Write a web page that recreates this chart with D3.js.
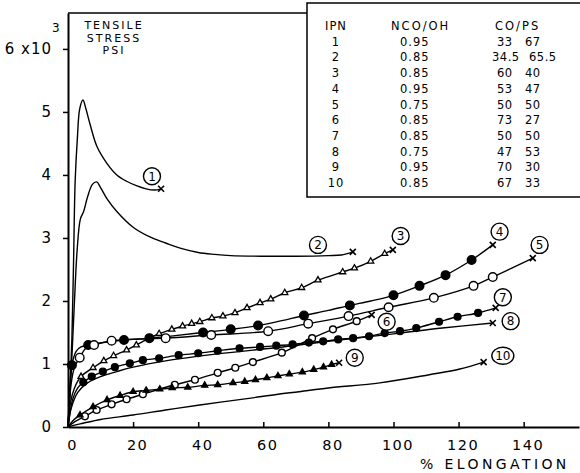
<!DOCTYPE html>
<html>
<head>
<meta charset="utf-8">
<script src="https://cdn.jsdelivr.net/npm/d3@7"></script>
<style>
  body { margin: 0; background: #fff; }
  svg { display: block; font-family: 'DejaVu Sans', sans-serif; }
</style>
</head>
<body>
<div class="canvas"></div>
<script>
const xTicks = [0, 20, 40, 60, 80, 100, 120, 140];
const yTicks = [0, 1, 2, 3, 4, 5, 6];

// [% elongation, tensile stress (10^3 psi), marker drawn?]
const ipn1 = [[0, 0], [0.6, 0.6], [1.2, 1.4], [1.7, 2.6], [2.2, 3.9], [2.9, 4.6], [3.6, 5.05], [4.6, 5.19],
  [5.5, 5.05], [6.8, 4.8], [8.9, 4.45], [12, 4.18], [15, 4.0], [18, 3.9], [21, 3.83], [24, 3.78], [26.5, 3.76], [28.6, 3.78]];
const ipn2 = [[0, 0], [1.0, 0.9], [1.9, 1.9], [2.8, 2.8], [3.8, 3.3], [4.8, 3.42], [6.0, 3.65], [7.5, 3.85], [8.8, 3.89],
  [10, 3.8], [12, 3.62], [15, 3.42], [20, 3.17], [25, 3.02], [30, 2.92], [35, 2.83], [40, 2.77], [45, 2.74], [50, 2.72],
  [60, 2.71], [70, 2.71], [80, 2.72], [84, 2.73], [87.5, 2.78]];
const ipn3 = [[0, 0, 0], [0.8, 0.4, 0], [2, 0.62, 0], [4, 0.8, 1], [7.7, 0.94, 1], [11, 1.05, 1], [14, 1.13, 1], [18, 1.22, 1],
  [21, 1.3, 1], [25, 1.41, 1], [28, 1.48, 1], [31.9, 1.55, 1], [35.2, 1.6, 1], [38, 1.64, 1], [40.5, 1.67, 1], [44.2, 1.73, 1],
  [47.6, 1.76, 1], [51.3, 1.81, 1], [55, 1.89, 1], [59, 1.97, 1], [62.3, 2.03, 1], [66.6, 2.13, 1], [71.8, 2.21, 1],
  [76.8, 2.33, 1], [84.4, 2.46, 1], [88, 2.52, 1], [93, 2.63, 1], [97.3, 2.75, 1], [99.8, 2.81, 0]];
const ipn4 = [[0, 0, 0], [0.5, 0.55, 0], [1.2, 0.98, 1], [2.5, 1.2, 0], [4, 1.27, 0], [6.2, 1.3, 1], [12, 1.35, 0],
  [17.2, 1.38, 1], [25, 1.41, 1], [33, 1.45, 0], [41.5, 1.5, 1], [50, 1.55, 1], [58.4, 1.61, 1], [65, 1.68, 0],
  [72.5, 1.77, 1], [80, 1.85, 0], [86.6, 1.93, 1], [93, 2.0, 0], [100, 2.09, 1], [108, 2.24, 1], [116, 2.41, 1],
  [124, 2.65, 1], [130.5, 2.89, 0]];
const ipn5 = [[0, 0, 0], [1, 0.7, 0], [2, 0.95, 0], [3.6, 1.1, 1], [5.5, 1.25, 0], [8, 1.3, 1], [13.4, 1.37, 1],
  [20, 1.39, 0], [30, 1.41, 1], [44, 1.46, 1], [61.5, 1.52, 1], [73.8, 1.64, 1], [86.2, 1.76, 1], [98.5, 1.9, 1],
  [112.4, 2.05, 1], [124.6, 2.24, 1], [130.5, 2.38, 1], [142.8, 2.68, 0]];
const ipn6 = [[0, 0, 0], [2, 0.08, 0], [5.2, 0.17, 1], [8.8, 0.27, 1], [13.4, 0.36, 1], [18, 0.44, 1], [23, 0.52, 1],
  [32.8, 0.67, 1], [39, 0.75, 1], [46, 0.86, 1], [51.4, 0.94, 1], [56.8, 1.03, 1], [65.7, 1.18, 1], [75, 1.41, 1],
  [81.4, 1.55, 1], [88.7, 1.68, 1], [93.3, 1.78, 0]];
const ipn7 = [[0, 0, 0], [1.5, 0.45, 0], [3, 0.62, 0], [4.7, 0.71, 1], [7.3, 0.8, 1], [10.7, 0.88, 1], [14.4, 0.95, 1],
  [19, 1.01, 1], [23, 1.06, 1], [28, 1.09, 1], [34, 1.14, 1], [40, 1.17, 1], [46, 1.21, 1], [52.7, 1.25, 1], [59, 1.27, 1],
  [64, 1.29, 1], [69, 1.31, 1], [74, 1.34, 1], [78.4, 1.36, 1], [83, 1.39, 1], [87.6, 1.41, 1], [92.5, 1.44, 1],
  [97.3, 1.49, 1], [102, 1.52, 1], [107, 1.57, 1], [114, 1.67, 1], [119.7, 1.75, 1], [126, 1.81, 1], [131.4, 1.89, 0]];
const ipn8 = [[0, 0], [1, 0.3], [3, 0.55], [6, 0.7], [10, 0.8], [15, 0.88], [20, 0.95], [30, 1.05], [46, 1.16],
  [66, 1.27], [80, 1.36], [92, 1.43], [102, 1.49], [115, 1.57], [130.5, 1.65]];
const ipn9 = [[0, 0, 0], [1.5, 0.1, 0], [3.7, 0.19, 1], [7.7, 0.32, 1], [12, 0.43, 1], [16, 0.5, 1], [20, 0.56, 1],
  [24, 0.58, 1], [28.2, 0.6, 1], [32, 0.62, 1], [36.8, 0.63, 1], [42, 0.66, 1], [46, 0.67, 1], [50.7, 0.7, 1],
  [54.3, 0.72, 1], [57.6, 0.75, 1], [61.1, 0.78, 1], [64.5, 0.81, 1], [68, 0.84, 1], [72, 0.87, 1], [75.5, 0.91, 1],
  [78.5, 0.95, 1], [81, 0.99, 1], [83.3, 1.02, 0]];
const ipn10 = [[0, 0], [2, 0.03], [4.6, 0.06], [10, 0.12], [20, 0.19], [30, 0.27], [40.5, 0.35], [55, 0.45],
  [64.5, 0.52], [71, 0.56], [80, 0.62], [95.8, 0.7], [111, 0.83], [120.4, 0.92], [127.7, 1.03]];

const curves = [ipn1, ipn2, ipn3, ipn4, ipn5, ipn6, ipn7, ipn8, ipn9, ipn10];
const markerKinds = [null, null, 'triOpen', 'dotL', 'openL', 'openS', 'dotS', null, 'triFill', null];
// where the circled numbers sit, in data units
const labelPos = [[25.8, 3.98], [76.8, 2.89], [102.2, 3.03], [132.6, 3.1], [144.9, 2.89],
  [97.9, 1.67], [133.6, 2.06], [136, 1.68], [88.1, 1.1], [133.6, 1.13]];

const tableIpn = ['1', '2', '3', '4', '5', '6', '7', '8', '9', '10'];
const tableNcoOh = ['0.95', '0.85', '0.85', '0.95', '0.75', '0.85', '0.85', '0.75', '0.95', '0.85'];
const tableCo = ['33', '34.5', '60', '53', '50', '73', '50', '47', '70', '67'];
const tablePs = ['67', '65.5', '40', '47', '50', '27', '50', '53', '30', '33'];

const width = 580;
const height = 473;

const svg = d3.select('.canvas').append('svg')
  .attr('width', width)
  .attr('height', height);

const x = d3.scaleLinear().domain([0, 157]).range([68, 579]);
const y = d3.scaleLinear().domain([0, 6.57]).range([427, 13]);

// frame + legend box
svg.append('line').attr('x1', 68).attr('x2', 307).attr('y1', 13).attr('y2', 13)
  .attr('stroke', '#000').attr('stroke-width', 1.5);
svg.append('path')
  .attr('d', 'M580,3 L307,3 L307,197 L580,197')
  .attr('fill', 'none').attr('stroke', '#000').attr('stroke-width', 1.5);

// axes
const xAxis = svg.append('g')
  .attr('transform', `translate(0, ${y(0)})`)
  .call(d3.axisBottom(x).tickValues(xTicks).tickSizeInner(-5).tickSizeOuter(0).tickPadding(13));
xAxis.select('.domain').attr('stroke-width', 2.2);
xAxis.selectAll('.tick line').attr('stroke-width', 1.5);
xAxis.selectAll('.tick line').filter(d => d === 0).remove();
xAxis.selectAll('text').attr('font-size', 14.5).attr('font-family', 'DejaVu Sans').attr('letter-spacing', 1.5)
  .attr('dx', 4);

const yAxis = svg.append('g')
  .attr('transform', `translate(${x(0)}, 0)`)
  .call(d3.axisLeft(y).tickValues(yTicks).tickSize(5).tickSizeOuter(0).tickPadding(11)
    .tickFormat(d => d === 6 ? '6 x10' : d));
yAxis.select('.domain').attr('stroke-width', 2);
yAxis.selectAll('.tick line').attr('stroke-width', 1.5);
yAxis.selectAll('text').attr('font-size', 15).attr('font-family', 'DejaVu Sans').attr('letter-spacing', 1);
svg.append('text').attr('x', 52).attr('y', 32).attr('font-size', 12).text('3');

// axis titles
svg.append('g').selectAll('text')
  .data(['TENSILE', 'STRESS', 'PSI'])
  .join('text')
  .attr('x', 114)
  .attr('y', (d, i) => 29 + i * 12.6)
  .attr('text-anchor', 'middle')
  .attr('font-size', 11)
  .attr('letter-spacing', 2)
  .text(d => d);

svg.append('text')
  .attr('x', 420).attr('y', 469)
  .attr('font-size', 14)
  .attr('letter-spacing', 3.4)
  .text('% ELONGATION');

// legend table
const table = svg.append('g').attr('font-size', 11.5).attr('letter-spacing', 1);
table.append('text').attr('x', 336).attr('y', 30).attr('text-anchor', 'middle').text('IPN');
table.append('text').attr('x', 391).attr('y', 30).attr('letter-spacing', 2).text('NCO/OH');
table.append('text').attr('x', 495).attr('y', 30).attr('letter-spacing', 2).text('CO/PS');
const rowY = i => 45.7 + i * 15.7;
table.selectAll('.c1').data(tableIpn).join('text').attr('class', 'c1')
  .attr('x', 336).attr('y', (d, i) => rowY(i)).attr('text-anchor', 'middle').text(d => d);
table.selectAll('.c2').data(tableNcoOh).join('text').attr('class', 'c2')
  .attr('x', 400).attr('y', (d, i) => rowY(i)).text(d => d);
table.selectAll('.c3').data(tableCo).join('text').attr('class', 'c3')
  .attr('x', d => d.length > 2 ? 492 : 497).attr('y', (d, i) => rowY(i)).attr('letter-spacing', 0.5).text(d => d);
table.selectAll('.c4').data(tablePs).join('text').attr('class', 'c4')
  .attr('x', d => d.length > 2 ? 529 : 525).attr('y', (d, i) => rowY(i)).attr('letter-spacing', 0.5).text(d => d);

// curves
const line = d3.line()
  .x(d => x(d[0]))
  .y(d => y(d[1]))
  .curve(d3.curveCatmullRom.alpha(0.5));

const plot = svg.append('g');
plot.selectAll('path.curve')
  .data(curves)
  .join('path')
  .attr('class', 'curve')
  .attr('d', line)
  .attr('fill', 'none')
  .attr('stroke', '#000')
  .attr('stroke-width', 1.4);

const triangle = d3.symbol().type(d3.symbolTriangle).size(16);

curves.forEach((pts, k) => {
  const kind = markerKinds[k];
  const g = plot.append('g');
  if (kind) {
    const marked = pts.filter(p => p[2] === 1);
    if (kind.startsWith('tri')) {
      g.selectAll('path').data(marked).join('path')
        .attr('d', triangle)
        .attr('transform', p => `translate(${x(p[0])}, ${y(p[1])})`)
        .attr('fill', kind === 'triFill' ? '#000' : '#fff')
        .attr('stroke', '#000')
        .attr('stroke-width', 1.3);
    } else {
      const big = kind.endsWith('L');
      const open = kind.startsWith('open');
      g.selectAll('circle').data(marked).join('circle')
        .attr('cx', p => x(p[0]))
        .attr('cy', p => y(p[1]))
        .attr('r', big ? 4.3 : 3.4)
        .attr('fill', open ? '#fff' : '#000')
        .attr('stroke', '#000')
        .attr('stroke-width', 1.4);
    }
  }
  // break point
  const end = pts[pts.length - 1];
  g.append('path')
    .attr('d', 'M-3,-3L3,3M-3,3L3,-3')
    .attr('transform', `translate(${x(end[0])}, ${y(end[1])})`)
    .attr('stroke', '#000')
    .attr('stroke-width', 1.6);
});

// circled sample numbers
const labels = plot.selectAll('g.lab')
  .data(labelPos)
  .join('g')
  .attr('class', 'lab')
  .attr('transform', d => `translate(${x(d[0])}, ${y(d[1])})`);
labels.append('ellipse')
  .attr('rx', (d, i) => i === 9 ? 11 : 8.5)
  .attr('ry', 8.5)
  .attr('fill', '#fff')
  .attr('stroke', '#000')
  .attr('stroke-width', 1.4);
labels.append('text')
  .attr('text-anchor', 'middle')
  .attr('dy', '0.36em')
  .attr('font-size', 12)
  .text((d, i) => i + 1);
</script>
</body>
</html>
